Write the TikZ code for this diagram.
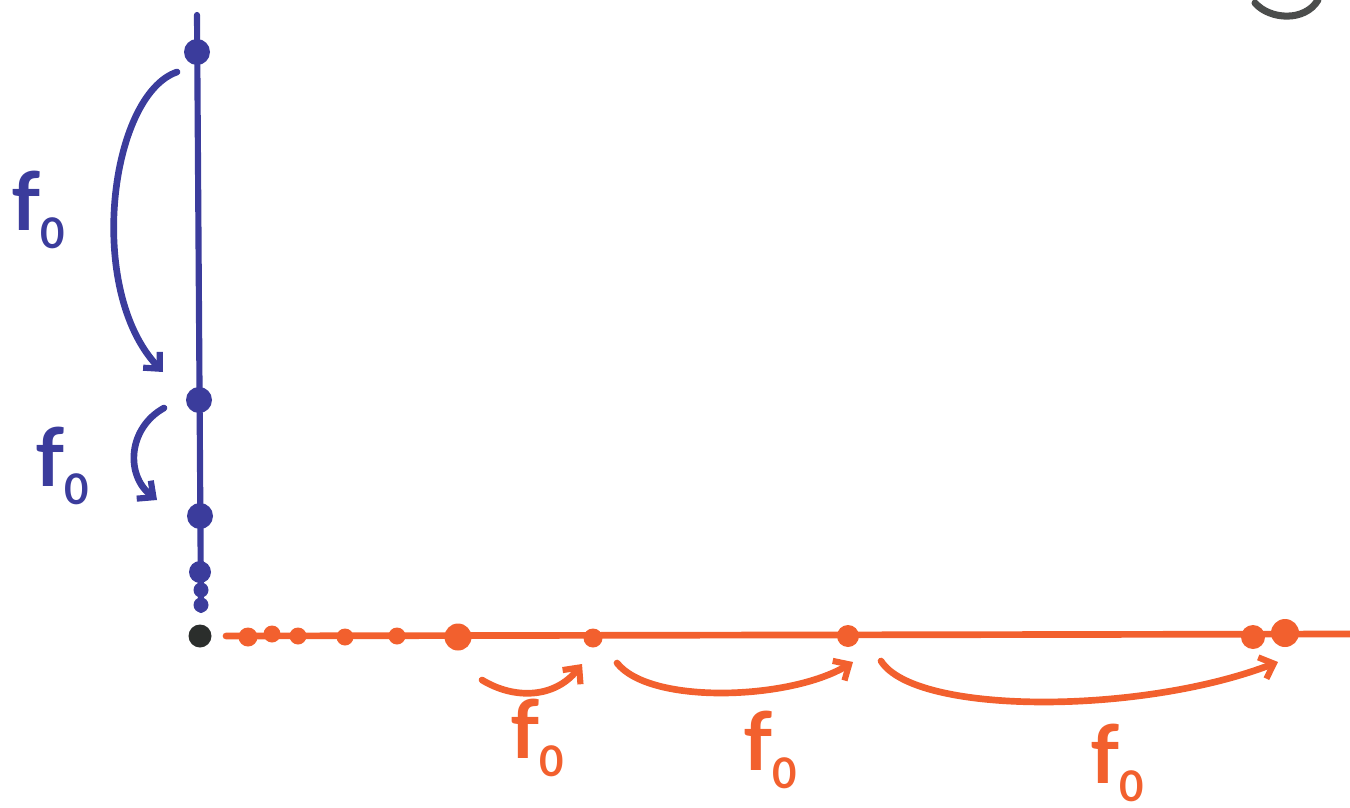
\documentclass[tikz,border=0pt]{standalone}
\usepackage{fontspec}
\newfontfamily\handfont{Lato}
\usetikzlibrary{arrows.meta}
\definecolor{inkblue}{HTML}{3B3C9C}
\definecolor{inkorange}{HTML}{F2602E}
\definecolor{inkblack}{HTML}{2B2E2C}
\newcommand{\fzero}{{\bfseries f}\raisebox{-0.22em}{\fontsize{24}{24}\selectfont\bfseries 0}}
\tikzset{
  bdot/.style={circle,fill=inkblue,inner sep=0pt,minimum size=#1},
  odot/.style={circle,fill=inkorange,inner sep=0pt,minimum size=#1},
  barrow/.style={draw=inkblue,line width=3.8pt,line cap=round,-{Straight Barb[length=7pt,width=13pt,line width=3.5pt]}},
  oarrow/.style={draw=inkorange,line width=3.8pt,line cap=round,-{Straight Barb[length=7pt,width=13pt,line width=3.5pt]}},
  blab/.style={text=inkblue,font=\handfont\fontsize{46}{50}\selectfont,inner sep=1pt},
  olab/.style={text=inkorange,font=\handfont\fontsize{46}{50}\selectfont,inner sep=1pt}
}
\begin{document}
\begin{tikzpicture}[x=0.02cm,y=-0.02cm]
\useasboundingbox (0,0) rectangle (1350,808);
% axes
\coordinate (vtop) at (197,15);
\coordinate (vbot) at (201,610);
\coordinate (hl) at (226,636);
\coordinate (hr) at (1350,634);
\draw[inkblue,line width=3.5pt,line cap=round] (vtop) -- (vbot);
\draw[inkorange,line width=3.8pt,line cap=round] (hl) -- (hr);
% blue dots
\node[bdot=26*0.02cm] (b1) at (197,52) {};
\node[bdot=26*0.02cm] (b2) at (199,400) {};
\node[bdot=26*0.02cm] (b3) at (200,516) {};
\node[bdot=22*0.02cm] (b4) at (200,572) {};
\node[bdot=15*0.02cm] (b5) at (201,590) {};
\node[bdot=15*0.02cm] (b6) at (201,605) {};
% origin
\node[circle,fill=inkblack,inner sep=0pt,minimum size=23*0.02cm] (o) at (200,636) {};
% orange dots
\node[odot=19*0.02cm] (r1) at (248,637) {};
\node[odot=17*0.02cm] (r2) at (272,634) {};
\node[odot=17*0.02cm] (r3) at (298,636) {};
\node[odot=17*0.02cm] (r4) at (345,637) {};
\node[odot=17*0.02cm] (r5) at (397,636) {};
\node[odot=27*0.02cm] (r6) at (458,637) {};
\node[odot=19*0.02cm] (r7) at (593,638) {};
\node[odot=22*0.02cm] (r8) at (848,636) {};
\node[odot=24*0.02cm] (r9) at (1253,637) {};
\node[odot=28*0.02cm] (r10) at (1285,633) {};
% blue arrows
\coordinate (ba1s) at (177,72);
\coordinate (ba1e) at (163,372);
\draw[barrow] (ba1s) .. controls (110,95) and (85,290) .. (ba1e);
\coordinate (ba2s) at (164,408);
\coordinate (ba2e) at (157,500);
\draw[barrow] (ba2s) .. controls (128,428) and (125,475) .. (ba2e);
\node[blab] (l1) at (38,210) {\fzero};
\node[blab] (l2) at (62,466) {\fzero};
% orange arrows
\coordinate (oa1s) at (482,680);
\coordinate (oa1e) at (582,664);
\draw[oarrow] (oa1s) .. controls (515,700) and (555,698) .. (oa1e);
\coordinate (oa2s) at (617,663);
\coordinate (oa2e) at (853,662);
\draw[oarrow] (oa2s) .. controls (650,705) and (790,700) .. (oa2e);
\coordinate (oa3s) at (881,661);
\coordinate (oa3e) at (1278,662);
\draw[oarrow] (oa3s) .. controls (915,715) and (1140,715) .. (oa3e);
\node[olab] (l3) at (537,738) {\fzero};
\node[olab] (l4) at (770,750) {\fzero};
\node[olab] (l5) at (1117,763) {\fzero};
% partial curve top right
\draw[inkblack!85,line width=4pt,line cap=round] (1255,3) .. controls (1270,20) and (1305,22) .. (1318,0);
\end{tikzpicture}
\end{document}
